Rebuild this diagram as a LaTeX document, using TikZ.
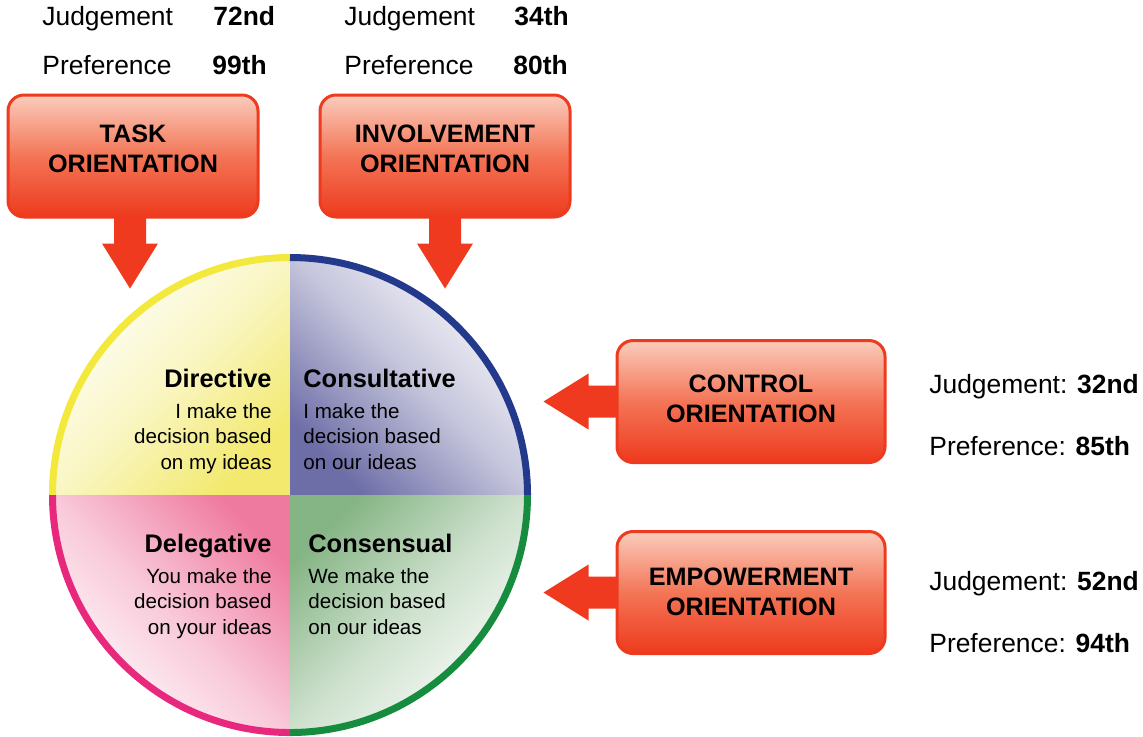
\documentclass[tikz,border=0pt]{standalone}
\usepackage{fontspec}
\setmainfont{Liberation Sans}
\usetikzlibrary{positioning}

\definecolor{boxred}{RGB}{238,58,30}
\definecolor{boxmid}{RGB}{243,117,86}
\definecolor{boxpeach}{RGB}{250,204,188}
\definecolor{arrowred}{RGB}{239,58,31}
\definecolor{ringyellow}{RGB}{243,232,60}
\definecolor{ringblue}{RGB}{35,57,140}
\definecolor{ringpink}{RGB}{232,40,125}
\definecolor{ringgreen}{RGB}{22,140,62}
\definecolor{fillyellow}{RGB}{242,233,110}
\definecolor{fillblue}{RGB}{109,109,167}
\definecolor{fillpink}{RGB}{239,122,160}
\definecolor{fillgreen}{RGB}{134,181,133}

\begin{document}
\begin{tikzpicture}[x=0.5pt,y=-0.5pt,
  orient/.style={draw=boxred,line width=1.5pt,rounded corners=8pt,
    bottom color=boxred,top color=boxpeach,middle color=boxmid,
    minimum width=125pt,minimum height=61pt},
  orientlabel/.style={align=center,inner sep=0pt,font=\fontsize{12.6}{15}\selectfont\bfseries},
  score/.style={anchor=base west,inner sep=0pt,font=\fontsize{13.2}{16}\selectfont},
  qtitle/.style={inner sep=0pt,font=\fontsize{12.7}{15}\selectfont\bfseries},
  qtext/.style={inner sep=0pt,font=\fontsize{10.3}{12.75}\selectfont},
  ring/.style={line width=3.5pt},
  blockarrow/.style={fill=arrowred}]

\useasboundingbox (0,0) rectangle (1143,736);

% the wheel: four shaded quarters and a coloured rim
\coordinate (wheel) at (290,495);
\begin{scope}
  \clip (wheel) circle[radius=238];
  \shade[bottom color=fillyellow,top color=white,middle color=fillyellow!40!white,shading angle=45]
    (wheel) rectangle ++(-240,-240);
  \shade[bottom color=fillblue,top color=white,middle color=fillblue!40!white,shading angle=-45]
    (wheel) rectangle ++(240,-240);
  \shade[bottom color=fillpink,top color=white,middle color=fillpink!40!white,shading angle=135]
    (wheel) rectangle ++(-240,240);
  \shade[bottom color=fillgreen,top color=white,middle color=fillgreen!40!white,shading angle=-135]
    (wheel) rectangle ++(240,240);
\end{scope}
\draw[ring,ringyellow] ([shift={(180:237.5)}]wheel) arc[start angle=180,end angle=270,radius=237.5];
\draw[ring,ringblue] ([shift={(270:237.5)}]wheel) arc[start angle=270,end angle=360,radius=237.5];
\draw[ring,ringgreen] ([shift={(0:237.5)}]wheel) arc[start angle=0,end angle=90,radius=237.5];
\draw[ring,ringpink] ([shift={(90:237.5)}]wheel) arc[start angle=90,end angle=180,radius=237.5];

% styles in the quarters
\node[qtitle,anchor=base east] (dirtitle) at (272,387) {Directive};
\node[qtext,align=right,below=8pt of dirtitle.base east,anchor=north east] (dirtext)
  {I make the\\decision based\\on my ideas};
\node[qtitle,anchor=base west] (contitle) at (303,387) {Consultative};
\node[qtext,align=left,below=8pt of contitle.base west,anchor=north west] (context)
  {I make the\\decision based\\on our ideas};
\node[qtitle,anchor=base east] (deltitle) at (272,552) {Delegative};
\node[qtext,align=right,below=8pt of deltitle.base east,anchor=north east] (deltext)
  {You make the\\decision based\\on your ideas};
\node[qtitle,anchor=base west] (cnstitle) at (308,552) {Consensual};
\node[qtext,align=left,below=8pt of cnstitle.base west,anchor=north west] (cnstext)
  {We make the\\decision based\\on our ideas};

% block arrows towards the wheel
\node[orient] (taskbox) at (133,156) {};
\node[orient] (involvebox) at (445,156) {};
\node[orient,minimum width=134pt] (controlbox) at (751,401.5) {};
\node[orient,minimum width=134pt] (empowerbox) at (751,592.5) {};
\fill[blockarrow] ([xshift=-1.5pt]taskbox.south) ++(-16,-2) -- ++(0,27) -- ++(-12,0)
  -- ++(28,45) -- ++(28,-45) -- ++(-12,0) -- ++(0,-27) -- cycle;
\fill[blockarrow] (involvebox.south) ++(-16,-2) -- ++(0,27) -- ++(-12,0)
  -- ++(28,45) -- ++(28,-45) -- ++(-12,0) -- ++(0,-27) -- cycle;
\fill[blockarrow] (controlbox.west) ++(2,-16) -- ++(-29,0) -- ++(0,-12)
  -- ++(-45,28) -- ++(45,28) -- ++(0,-12) -- ++(29,0) -- cycle;
\fill[blockarrow] (empowerbox.west) ++(2,-16) -- ++(-29,0) -- ++(0,-12)
  -- ++(-45,28) -- ++(45,28) -- ++(0,-12) -- ++(29,0) -- cycle;

% box captions
\node[orientlabel] (tasklabel) at ([yshift=3.5pt]taskbox.center) {TASK\\ORIENTATION};
\node[orientlabel] (involvelabel) at ([yshift=3.5pt]involvebox.center) {INVOLVEMENT\\ORIENTATION};
\node[orientlabel] (controllabel) at ([yshift=1.5pt]controlbox.center) {CONTROL\\ORIENTATION};
\node[orientlabel] (empowerlabel) at ([yshift=0.5pt]empowerbox.center) {EMPOWERMENT\\ORIENTATION};

% scores
\node[score] (taskjudge) at (42,25) {Judgement};
\node[score] (taskjudgeval) at (213,25) {\bfseries 72nd};
\node[score] (taskpref) at (42,74) {Preference};
\node[score] (taskprefval) at (212,74) {\bfseries 99th};
\node[score] (involvejudge) at (344,25) {Judgement};
\node[score] (involvejudgeval) at (514,25) {\bfseries 34th};
\node[score] (involvepref) at (344,74) {Preference};
\node[score] (involveprefval) at (513,74) {\bfseries 80th};
\node[score] (controljudge) at (929,393) {Judgement: \textbf{32nd}};
\node[score] (controlpref) at (929,455) {Preference: \textbf{85th}};
\node[score] (empowerjudge) at (929,590) {Judgement: \textbf{52nd}};
\node[score] (empowerpref) at (929,652) {Preference: \textbf{94th}};
\end{tikzpicture}
\end{document}
